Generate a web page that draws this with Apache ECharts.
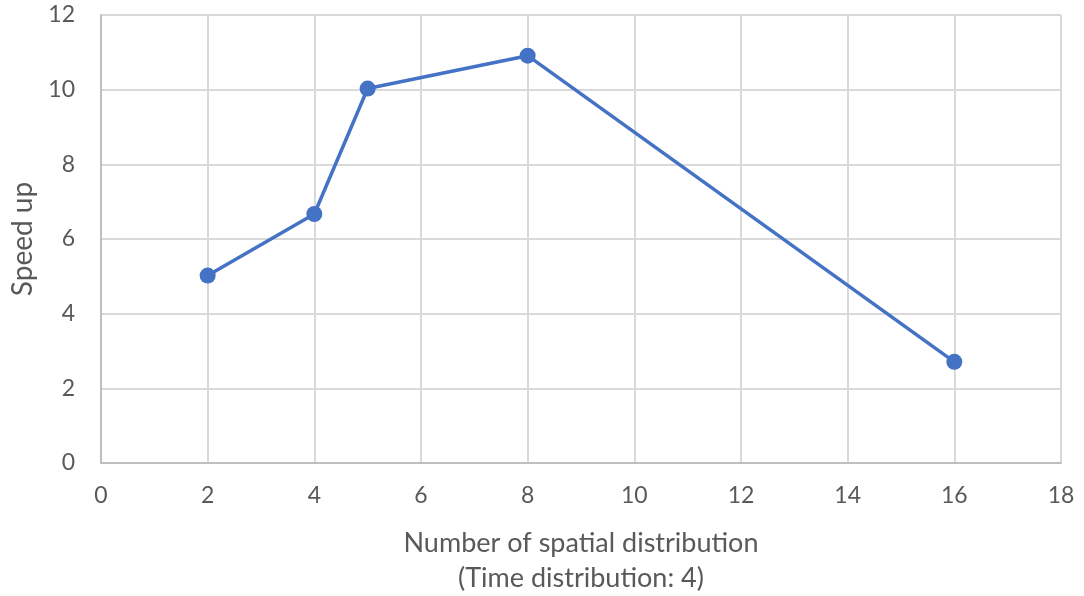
<!DOCTYPE html>
<html><head><meta charset="utf-8">
<script src="https://cdn.jsdelivr.net/npm/echarts@6/dist/echarts.min.js"></script>
<style>html,body{margin:0;padding:0;background:#fff}#c{width:1084px;height:596px}</style>
</head><body><div id="c"></div>
<script>
var xValues = [2, 4, 5, 8, 16];
var speedUp = [5.02, 6.67, 10.03, 10.91, 2.71];
var xName = 'Number of spatial distribution\n(Time distribution: 4)';
var yName = 'Speed up';
var FONT = 'Lato';
var chart = echarts.init(document.getElementById('c'));
chart.setOption({
  animation: false,
  grid: {left: 101, right: 23, top: 15, bottom: 133, containLabel: false, outerBoundsMode: 'none'},
  xAxis: {
    type: 'value', min: 0, max: 18, interval: 2,
    name: xName, nameLocation: 'middle', nameGap: 63,
    nameTextStyle: {color: '#595959', fontSize: 27, fontFamily: FONT, lineHeight: 35},
    axisLine: {show: true, lineStyle: {color: '#bfbfbf', width: 2}},
    axisTick: {show: false},
    axisLabel: {color: '#595959', fontSize: 23, fontFamily: FONT, margin: 21},
    splitLine: {show: true, lineStyle: {color: '#d9d9d9', width: 2}}
  },
  yAxis: {
    type: 'value', min: 0, max: 12, interval: 2,
    name: yName, nameLocation: 'middle', nameGap: 64,
    nameTextStyle: {color: '#595959', fontSize: 28, fontFamily: FONT},
    axisLine: {show: true, lineStyle: {color: '#bfbfbf', width: 2}},
    axisTick: {show: false},
    axisLabel: {color: '#595959', fontSize: 23, fontFamily: FONT, margin: 26},
    splitLine: {show: true, lineStyle: {color: '#d9d9d9', width: 2}}
  },
  series: [{
    type: 'line',
    data: xValues.map(function (x, i) { return [x, speedUp[i]]; }),
    symbol: 'circle', symbolSize: 16,
    lineStyle: {color: '#4472c4', width: 3.5},
    itemStyle: {color: '#4472c4'}
  }]
});
</script></body></html>
